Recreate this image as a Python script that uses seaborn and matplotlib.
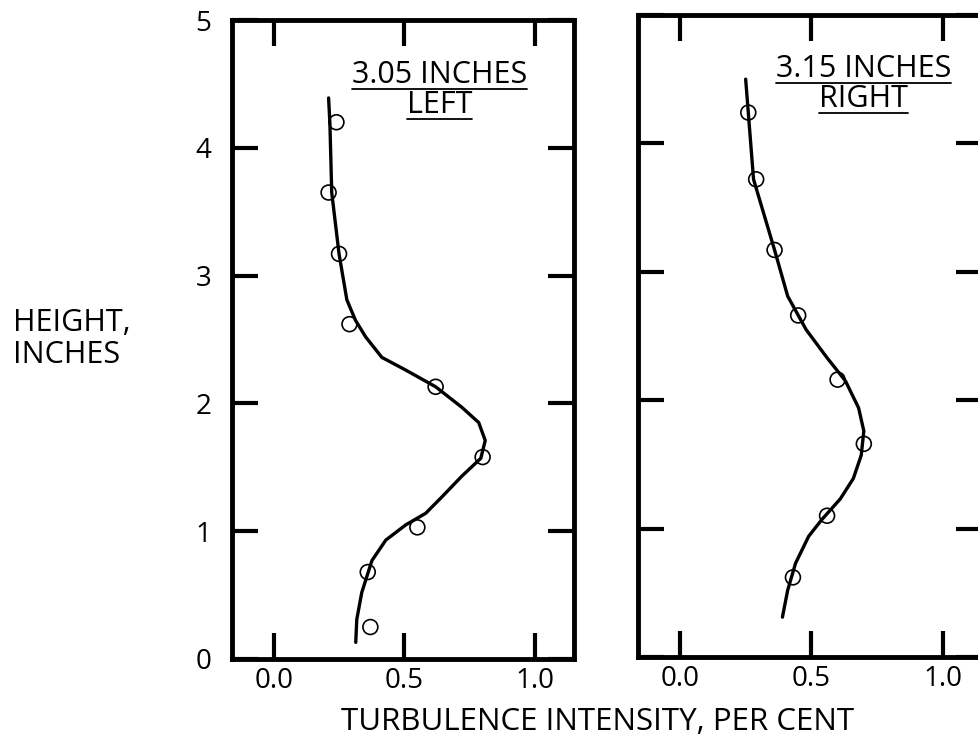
import matplotlib
matplotlib.use("Agg")
import matplotlib.pyplot as plt
from matplotlib.lines import Line2D
import seaborn as sns

# turbulence profiles
left_curve_x = [0.21, 0.215, 0.222, 0.25, 0.28, 0.313, 0.352, 0.414, 0.506, 0.62, 0.72, 0.785,
                0.81, 0.793, 0.72, 0.645, 0.582, 0.506, 0.429, 0.376, 0.337, 0.318, 0.314]
left_curve_y = [4.39, 4.19, 3.65, 3.17, 2.81, 2.65, 2.52, 2.36, 2.26, 2.13, 1.97, 1.85,
                1.71, 1.57, 1.43, 1.27, 1.14, 1.05, 0.93, 0.77, 0.52, 0.31, 0.13]
left_pts_x = [0.24, 0.21, 0.25, 0.29, 0.62, 0.80, 0.55, 0.36, 0.37]
left_pts_y = [4.20, 3.65, 3.17, 2.62, 2.13, 1.58, 1.03, 0.68, 0.25]

right_curve_x = [0.25, 0.26, 0.28, 0.36, 0.41, 0.48, 0.56, 0.63, 0.68, 0.70, 0.69,
                 0.66, 0.61, 0.54, 0.49, 0.44, 0.41, 0.39]
right_curve_y = [4.50, 4.24, 3.72, 3.17, 2.81, 2.55, 2.33, 2.15, 1.94, 1.76, 1.57,
                 1.39, 1.23, 1.07, 0.94, 0.73, 0.52, 0.31]
right_pts_x = [0.26, 0.29, 0.36, 0.45, 0.60, 0.70, 0.56, 0.43]
right_pts_y = [4.24, 3.72, 3.17, 2.66, 2.16, 1.66, 1.10, 0.62]

x_ticks = [0.0, 0.5, 1.0]
x_ticklabels = ["0.0", "0.5", "1.0"]
y_ticks = [0, 1, 2, 3, 4, 5]

sns.set_theme(style="white")
plt.rcParams["font.family"] = ["Open Sans", "DejaVu Sans"]
plt.rcParams["text.color"] = "black"
plt.rcParams["xtick.color"] = "black"
plt.rcParams["ytick.color"] = "black"

fig = plt.figure(figsize=(9.79, 7.41), dpi=100)
ax1 = fig.add_axes([232 / 979, 0.1107, 342 / 979, 0.8623])
ax2 = fig.add_axes([638 / 979, 0.1134, 344 / 979, 0.8664])

panels = [
    (ax1, left_curve_x, left_curve_y, left_pts_x, left_pts_y, 0.634, 4.507, 4.272, "3.05 INCHES", "LEFT"),
    (ax2, right_curve_x, right_curve_y, right_pts_x, right_pts_y, 0.698, 4.517, 4.283, "3.15 INCHES", "RIGHT"),
]

captions = []
for ax, cx, cy, px, py, tx, ty1, ty2, line1, line2 in panels:
    sns.lineplot(x=cx, y=cy, sort=False, estimator=None, color="black", linewidth=2.4, ax=ax)
    sns.scatterplot(x=px, y=py, s=115, marker="o", facecolor="none",
                    edgecolor="black", linewidth=1.2, ax=ax, zorder=3)
    ax.set_xlim(-0.16, 1.15)
    ax.set_ylim(0, 5)
    ax.set_xticks(x_ticks)
    ax.set_xticklabels(x_ticklabels)
    ax.set_yticks(y_ticks)
    ax.tick_params(direction="in", length=19, width=3, color="black",
                   top=True, right=True, bottom=True, left=True,
                   labelsize=20, labelcolor="black")
    ax.tick_params(axis="x", pad=6)
    ax.tick_params(axis="y", pad=15)
    for sp in ax.spines.values():
        sp.set_linewidth(3.5)
        sp.set_color("black")
    ax.set_xlabel("")
    ax.set_ylabel("")
    captions.append((ax, ax.text(tx, ty1, line1, ha="center", va="baseline", fontsize=22)))
    captions.append((ax, ax.text(tx, ty2, line2, ha="center", va="baseline", fontsize=22)))

# the right panel only repeats the x labels
ax2.set_yticklabels([])

fig.text(13 / 979, 1 - 331 / 741, "HEIGHT,", ha="left", va="baseline", fontsize=22)
fig.text(13 / 979, 1 - 363 / 741, "INCHES", ha="left", va="baseline", fontsize=22)
fig.text(598 / 979, 1 - 730 / 741, "TURBULENCE INTENSITY, PER CENT", ha="center",
         va="baseline", fontsize=22.5)

# underline the panel captions
fig.canvas.draw()
inv = fig.transFigure.inverted()
for ax, t in captions:
    bb = t.get_window_extent()
    base = ax.transData.transform(t.get_position())[1] - 6
    (x0, y0), (x1, _) = inv.transform([(bb.x0, base), (bb.x1, base)])
    fig.add_artist(Line2D([x0, x1], [y0, y0], color="black", linewidth=1.3))

fig.savefig("out.png", dpi=100, facecolor="white")
